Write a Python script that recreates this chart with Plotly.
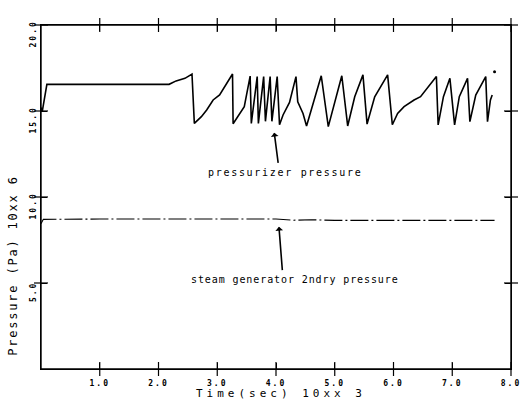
import plotly.graph_objects as go

# Pressurizer pressure (time in 10^3 s, pressure in 10^6 Pa)
prz_t = [0, 0.02, 0.1, 2.18, 2.3, 2.45, 2.57, 2.61, 2.73, 2.82, 2.93, 3.04, 3.26, 3.27,
         3.46, 3.56, 3.58, 3.68, 3.70, 3.79, 3.82, 3.90, 3.93, 4.02, 4.06, 4.12, 4.23,
         4.34, 4.37, 4.46, 4.52, 4.65, 4.77, 4.89, 5.01, 5.12, 5.22, 5.34, 5.48, 5.55,
         5.68, 5.90, 5.98, 6.07, 6.18, 6.35, 6.46, 6.73, 6.76, 6.85, 6.96, 7.04, 7.12,
         7.26, 7.30, 7.40, 7.57, 7.60, 7.65, 7.68]
prz_p = [15.2, 14.95, 16.55, 16.55, 16.75, 16.9, 17.15, 14.28, 14.67, 15.06, 15.64, 15.93,
         17.15, 14.26, 15.25, 17.03, 14.28, 17.0, 14.28, 17.0, 14.4, 17.0, 14.4, 17.0, 14.2,
         14.77, 15.5, 17.0, 15.54, 14.86, 14.13, 15.64, 17.05, 14.09, 15.64, 17.05, 14.13,
         15.83, 17.1, 14.24, 15.83, 17.1, 14.2, 14.86, 15.25, 15.64, 15.83, 17.0, 14.19,
         15.83, 16.9, 14.19, 15.83, 16.9, 14.38, 15.93, 17.0, 14.38, 15.64, 15.93]

# stray plotted point near the end
dot_t = [7.72]
dot_p = [17.28]

# Steam generator secondary pressure
sg_t = [0, 0.04, 1.0, 2.0, 3.0, 4.0, 4.3, 4.6, 5.0, 6.0, 7.0, 7.72]
sg_p = [8.45, 8.70, 8.72, 8.72, 8.72, 8.72, 8.65, 8.68, 8.64, 8.64, 8.64, 8.64]

x_range = [0, 8]
y_range = [0, 20]
x_ticks = [1, 2, 3, 4, 5, 6, 7, 8]
x_labels = ["1.0", "2.0", "3.0", "4.0", "5.0", "6.0", "7.0", "8.0"]
y_ticks = [5, 10, 15, 20]
y_labels = ["5.0", "10.0", "15.0", "20.0"]

FONT = "DejaVu Sans Mono"


def spaced(s, px):
    return f'<span style="letter-spacing:{px}px">{s}</span>'


X0, X1 = x_range
Y0, Y1 = y_range

fig = go.Figure()
# plot frame, built from the axis ranges
fig.add_trace(go.Scatter(x=[X0, X1, X1, X0, X0], y=[Y0, Y0, Y1, Y1, Y0], mode="lines",
                         line=dict(color="black", width=1.4), cliponaxis=False,
                         hoverinfo="skip", showlegend=False))
# tick marks on all four sides
fig.add_trace(go.Scatter(x=x_ticks + x_ticks, y=[Y0] * len(x_ticks) + [Y1] * len(x_ticks),
                         mode="markers", cliponaxis=False, hoverinfo="skip",
                         marker=dict(symbol="line-ns", size=10,
                                     line=dict(color="black", width=1.2)),
                         showlegend=False))
fig.add_trace(go.Scatter(x=[X0] * len(y_ticks) + [X1] * len(y_ticks), y=y_ticks + y_ticks,
                         mode="markers", cliponaxis=False, hoverinfo="skip",
                         marker=dict(symbol="line-ew", size=10,
                                     line=dict(color="black", width=1.2)),
                         showlegend=False))

fig.add_trace(go.Scatter(x=sg_t, y=sg_p, mode="lines",
                         line=dict(color="black", width=1.1, dash="18px,3px,2px,3px"),
                         showlegend=False))
fig.add_trace(go.Scatter(x=prz_t, y=prz_p, mode="lines",
                         line=dict(color="black", width=1.6), showlegend=False))
fig.add_trace(go.Scatter(x=dot_t, y=dot_p, mode="markers",
                         marker=dict(color="black", size=3), showlegend=False))

# annotation arrows
fig.add_annotation(x=3.97, y=13.74, ax=4.04, ay=11.9, xref="x", yref="y", axref="x", ayref="y",
                   text="", showarrow=True, arrowhead=1, arrowsize=0.8, arrowwidth=1.6,
                   arrowcolor="black")
fig.add_annotation(x=4.16, y=11.45, xref="x", yref="y", showarrow=False,
                   text=spaced("pressurizer pressure", 1.7),
                   font=dict(family=FONT, size=10, color="black"))
fig.add_annotation(x=4.05, y=8.27, ax=4.11, ay=5.66, xref="x", yref="y", axref="x", ayref="y",
                   text="", showarrow=True, arrowhead=1, arrowsize=0.8, arrowwidth=1.6,
                   arrowcolor="black")
fig.add_annotation(x=4.33, y=5.2, xref="x", yref="y", showarrow=False,
                   text=spaced("steam generator 2ndry pressure", 0.9),
                   font=dict(family=FONT, size=10, color="black"))

# axis titles
fig.add_annotation(x=0.51, y=0, xref="paper", yref="paper", yshift=-24, yanchor="middle",
                   xanchor="center", showarrow=False, text=spaced("Time(sec) 10xx 3", 4),
                   font=dict(family=FONT, size=11, color="black"))
fig.add_annotation(x=0, y=0.30, xref="paper", yref="paper", xshift=-28, xanchor="center",
                   yanchor="middle", textangle=-90, showarrow=False,
                   text=spaced("Pressure (Pa) 10xx 6", 1.8),
                   font=dict(family=FONT, size=12, color="black"))

axis_common = dict(showline=True, linecolor="#000000", linewidth=1.4, mirror="ticks",
                   ticks="inside", ticklen=6, tickwidth=1.2, tickcolor="#000000",
                   showgrid=False, zeroline=False)

fig.update_xaxes(range=x_range, tickmode="array", tickvals=x_ticks,
                 ticktext=[spaced(s, 2) for s in x_labels],
                 tickfont=dict(family=FONT, size=8, color="black", weight="bold"),
                 ticklabelstandoff=6, **axis_common)
fig.update_yaxes(range=y_range, tickmode="array", tickvals=y_ticks,
                 ticktext=[spaced(s, 2) for s in y_labels],
                 tickangle=-90, ticklabelshift=10,
                 tickfont=dict(family=FONT, size=8, color="black", weight="bold"),
                 ticklabelstandoff=1, **axis_common)

fig.update_layout(width=532, height=405, margin=dict(l=41, r=11, t=25, b=36),
                  plot_bgcolor="white", paper_bgcolor="white", showlegend=False)

fig.write_html("out.html", config={"displayModeBar": False},
               post_script="document.body.style.margin='0';")
